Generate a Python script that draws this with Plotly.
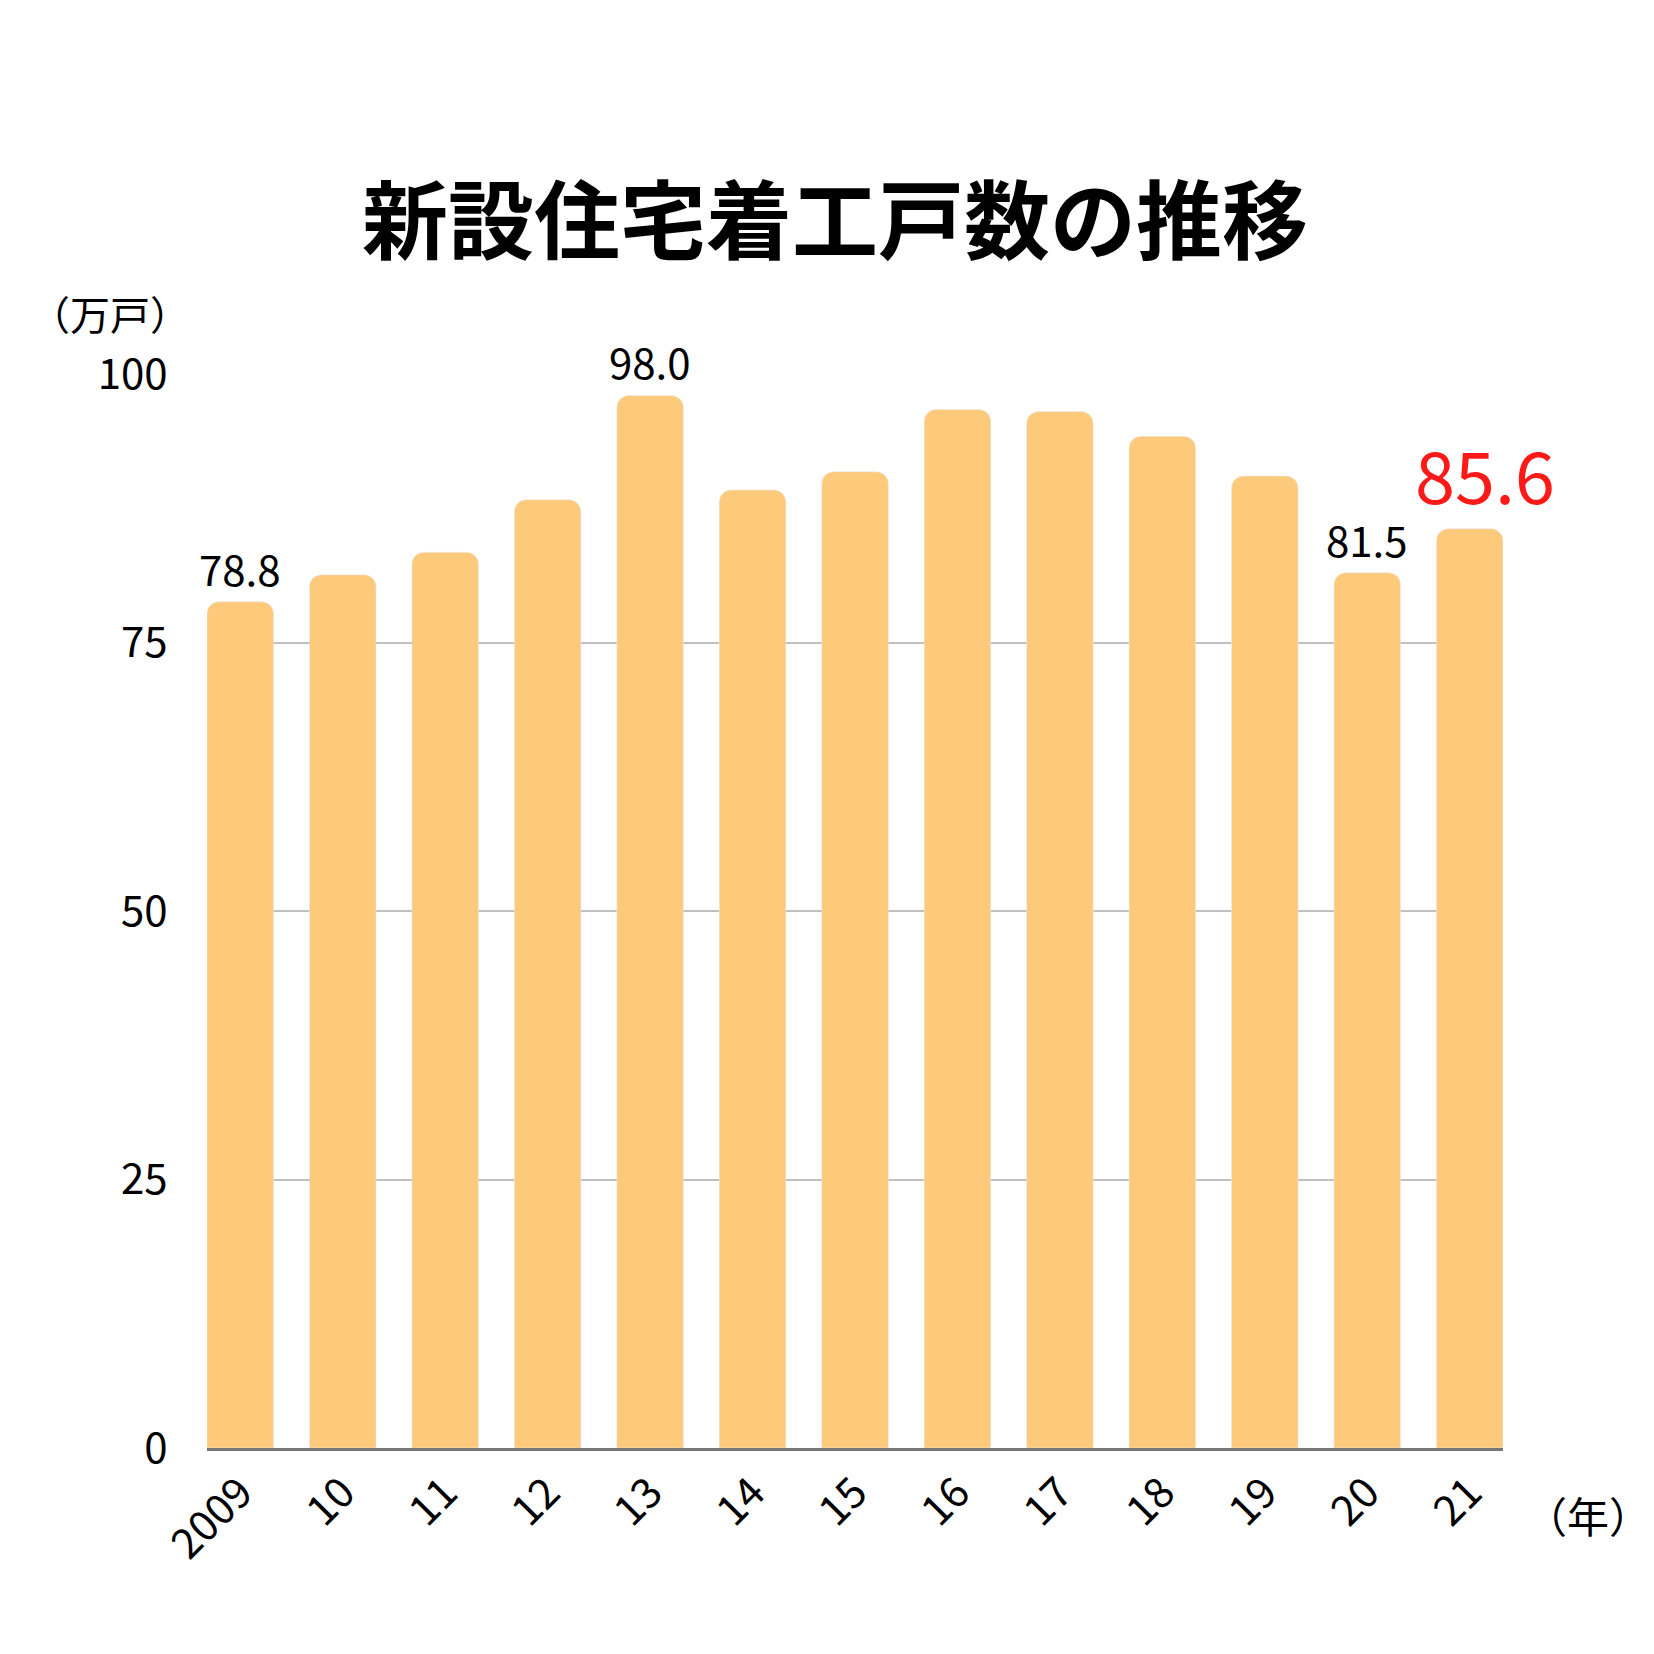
import plotly.graph_objects as go

years = ["2009","10","11","12","13","14","15","16","17","18","19","20","21"]
values = [78.8,81.3,83.4,88.3,98.0,89.2,90.9,96.7,96.5,94.2,90.5,81.5,85.6]
labeled = {0:"black",4:"black",11:"black",12:"#ff1a1a"}
xs = list(range(len(years)))
F = "Noto Sans CJK JP"

fig = go.Figure(go.Bar(x=xs, y=values, width=0.65, marker=dict(color="#fdca7c", cornerradius=12)))
for i, c in labeled.items():
    big = c != "black"
    fig.add_annotation(x=xs[i] + (0.15 if big else 0), y=values[i], text=f"{values[i]:.1f}", showarrow=False,
                       yanchor="bottom", yshift=2, font=dict(family=F, size=72 if big else 42, color=c))
fig.add_annotation(xref="paper", yref="paper", x=1, y=0, xanchor="left", yanchor="middle", xshift=20, yshift=-66,
                   text="（年）", showarrow=False, font=dict(family=F, size=42, color="black"))
fig.add_annotation(xref="paper", yref="paper", x=0, y=1, xanchor="right", yanchor="bottom", xshift=-15, yshift=30,
                   text="（万戸）", showarrow=False, font=dict(family=F, size=40, color="black"))
fig.update_layout(
    width=1654, height=1654, plot_bgcolor="white", paper_bgcolor="white", showlegend=False,
    margin=dict(l=199, r=159, t=366, b=214),
    title=dict(text="<b>新設住宅着工戸数の推移</b>", x=0.5, xanchor="center", y=0.87, yanchor="middle",
               font=dict(family=F, size=86, color="black")),
    xaxis=dict(range=[-0.325, 12.325], tickvals=xs, ticktext=years, tickangle=-45,
               tickfont=dict(family=F, size=42, color="black"), showgrid=False,
               showline=True, linecolor="#777", linewidth=3, ticks=""),
    yaxis=dict(range=[0, 100], tickvals=[0,25,50,75,100], gridcolor="#c0c0c0", gridwidth=2,
               tickfont=dict(family=F, size=42, color="black"), zeroline=False, ticklen=30, ticks="outside", tickcolor="white"),
)
fig.write_html("out.html")
